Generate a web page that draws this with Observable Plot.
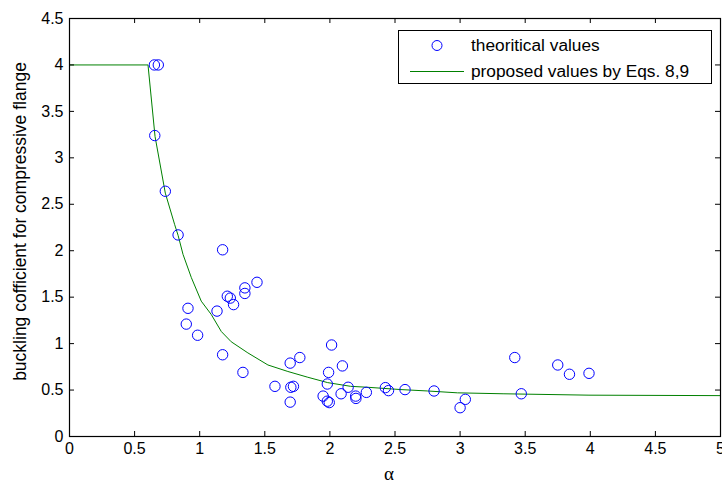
<!DOCTYPE html>
<html>
<head>
<meta charset="utf-8">
<script src="https://cdn.jsdelivr.net/npm/d3@7"></script>
<script src="https://cdn.jsdelivr.net/npm/@observablehq/plot@0.6"></script>
<style>
  html, body { margin: 0; padding: 0; background: #fff; }
  #chart svg { display: block; }
</style>
</head>
<body>
<div id="chart"></div>
<script>
// Observed data: alpha vs buckling coefficient
const pointAlpha = [0.652, 0.682, 0.655, 0.736, 0.834, 1.176, 0.910, 0.897, 0.984, 1.133,
  1.212, 1.235, 1.26, 1.347, 1.347, 1.44, 1.176, 1.332, 1.578, 1.695,
  1.769, 1.70, 1.72, 1.695, 2.013, 1.99, 1.98, 1.948, 1.98, 1.995,
  2.096, 2.086, 2.14, 2.198, 2.20, 2.28, 2.426, 2.45, 2.577, 2.80,
  3.00, 3.04, 3.42, 3.75, 3.84, 3.99, 3.47];
const pointK = [4.0, 4.0, 3.24, 2.64, 2.17, 2.01, 1.38, 1.21, 1.09, 1.35,
  1.51, 1.49, 1.42, 1.60, 1.54, 1.66, 0.88, 0.69, 0.54, 0.79,
  0.85, 0.53, 0.54, 0.37, 0.985, 0.69, 0.565, 0.435, 0.38, 0.365,
  0.76, 0.46, 0.53, 0.435, 0.41, 0.475, 0.526, 0.494, 0.505, 0.49,
  0.31, 0.40, 0.85, 0.77, 0.67, 0.68, 0.46];

// Proposed curve
const curveAlpha = [0, 0.603, 0.657, 0.736, 0.808, 0.834, 0.872, 0.936, 1.012, 1.089, 1.166,
  1.242, 1.37, 1.524, 1.677, 1.83, 1.983, 2.16, 2.29, 2.546, 2.75, 2.98, 3.33, 3.99, 5];
const curveK = [4.0, 4.0, 3.23, 2.62, 2.28, 2.166, 1.96, 1.71, 1.457, 1.313, 1.13,
  1.02, 0.90, 0.77, 0.70, 0.638, 0.58, 0.54, 0.53, 0.505, 0.49, 0.47, 0.46, 0.445, 0.44];

const xTicks = [0, 0.5, 1, 1.5, 2, 2.5, 3, 3.5, 4, 4.5, 5];
const yTicks = [0, 0.5, 1, 1.5, 2, 2.5, 3, 3.5, 4, 4.5];
const xLabel = "α";
const yLabel = "buckling cofficient for compressive flange";
const legendLabels = ["theoritical values", "proposed values by Eqs. 8,9"];

const points = pointAlpha.map((a, i) => ({a, k: pointK[i]}));
const curve = curveAlpha.map((a, i) => ({a, k: curveK[i]}));

const font = "'Liberation Sans', Arial, Helvetica, sans-serif";

const plot = Plot.plot({
  width: 722,
  height: 483,
  marginLeft: 69,
  marginRight: 2,
  marginTop: 18,
  marginBottom: 47,
  style: {fontFamily: font, fontSize: "16px", color: "#000", background: "#fff", overflow: "visible"},
  x: {domain: [0, 5], ticks: xTicks},
  y: {domain: [0, 4.5], ticks: yTicks},
  marks: [
    Plot.line(curve, {x: "a", y: "k", stroke: "#008000", strokeWidth: 1}),
    Plot.dot(points, {x: "a", y: "k", r: 5.2, stroke: "#0000ff", strokeWidth: 1, fill: "none"}),
    // inward ticks
    Plot.ruleX(xTicks, {x: d => d, y1: 0, y2: 0, insetTop: 0, insetBottom: 5, stroke: "#000"}),
    Plot.ruleX(xTicks, {x: d => d, y1: 4.5, y2: 4.5, insetTop: 0, insetBottom: -5, stroke: "#000"}),
    Plot.ruleY(yTicks, {y: d => d, x1: 0, x2: 0, insetLeft: 0, insetRight: -5, stroke: "#000"}),
    Plot.ruleY(yTicks, {y: d => d, x1: 5, x2: 5, insetLeft: 0, insetRight: 5, stroke: "#000"}),
    Plot.axisX({ticks: xTicks, tickSize: 0, tickPadding: 6, label: null, tickFormat: d => String(d), fontSize: 16}),
    Plot.axisY({ticks: yTicks, tickSize: 0, tickPadding: 6, label: null, tickFormat: d => String(d), fontSize: 16}),
    Plot.frame({stroke: "#000", strokeWidth: 1.2}),
    Plot.text([yLabel], {text: d => d, frameAnchor: "left", textAnchor: "middle", rotate: -90, dx: -49, dy: -6, fontSize: 17.5}),
    Plot.text([xLabel], {text: d => d, frameAnchor: "bottom", dy: 43, dx: -6, fontSize: 19, fontFamily: "'Liberation Serif', 'Times New Roman', serif"})
  ]
});

document.getElementById("chart").appendChild(plot);

// Legend drawn inside the SVG
const svg = d3.select(plot);
const lg = svg.append("g").attr("font-family", font).attr("font-size", 17.3).attr("text-anchor", "start");
lg.append("rect").attr("x", 398.5).attr("y", 30.5).attr("width", 313).attr("height", 53)
  .attr("fill", "#fff").attr("stroke", "#000");
lg.append("circle").attr("cx", 437).attr("cy", 45.5).attr("r", 5)
  .attr("fill", "none").attr("stroke", "#0000ff");
lg.append("text").attr("x", 471).attr("y", 45.5).attr("dy", "0.32em").text(legendLabels[0]);
lg.append("line").attr("x1", 410).attr("x2", 464).attr("y1", 71.5).attr("y2", 71.5)
  .attr("stroke", "#008000");
lg.append("text").attr("x", 471).attr("y", 71.5).attr("dy", "0.32em").text(legendLabels[1]);
</script>
</body>
</html>
